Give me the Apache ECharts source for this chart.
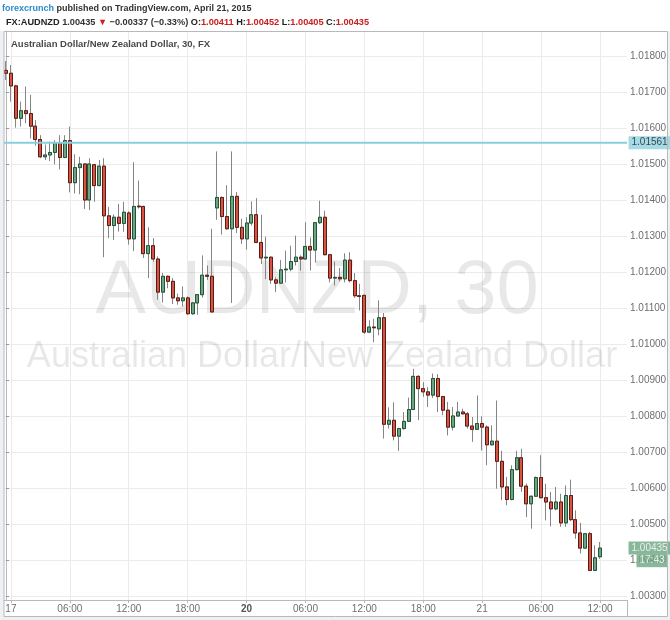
<!DOCTYPE html>
<html><head><meta charset="utf-8">
<script src="https://cdn.jsdelivr.net/npm/echarts@6/dist/echarts.min.js"></script>
<style>html,body{margin:0;padding:0;background:#fff;}#c{width:670px;height:620px;}</style>
</head><body><div id="c"></div>
<script>
// 30-minute bars, Apr 16 23:30 -> Apr 21 12:00 (weekend skipped)
const categories = [
 '23:30',
 '17','00:30','01:00','01:30','02:00','02:30','03:00','03:30','04:00','04:30','05:00','05:30',
 '06:00','06:30','07:00','07:30','08:00','08:30','09:00','09:30','10:00','10:30','11:00','11:30',
 '12:00','12:30','13:00','13:30','14:00','14:30','15:00','15:30','16:00','16:30','17:00','17:30',
 '18:00','18:30','19:00','19:30','20:00','20:30',
 '21:00','21:30','22:00','22:30','23:00','23:30',
 '20','00:30','01:00','01:30','02:00','02:30','03:00','03:30','04:00','04:30','05:00','05:30',
 '06:00','06:30','07:00','07:30','08:00','08:30','09:00','09:30','10:00','10:30','11:00','11:30',
 '12:00','12:30','13:00','13:30','14:00','14:30','15:00','15:30','16:00','16:30','17:00','17:30',
 '18:00','18:30','19:00','19:30','20:00','20:30','21:00','21:30','22:00','22:30','23:00','23:30',
 '21','00:30','01:00','01:30','02:00','02:30','03:00','03:30','04:00','04:30','05:00','05:30',
 '06:00','06:30','07:00','07:30','08:00','08:30','09:00','09:30','10:00','10:30','11:00','11:30',
 '12:00'
];
const tickIndex = [1, 13, 25, 37, 49, 61, 73, 85, 97, 109, 121];
const dayLabels = ['20'];

const openP = [
 1.01762,1.01754,1.01719,1.01629,1.01650,1.01642,1.01607,1.01570,1.01522,1.01527,
 1.01534,1.01561,1.01520,1.01567,1.01450,1.01492,1.01502,1.01402,1.01500,1.01442,
 1.01496,1.01358,1.01331,1.01354,1.01337,1.01366,1.01294,1.01385,1.01384,1.01253,
 1.01275,1.01238,1.01146,1.01190,1.01176,1.01130,1.01122,1.01130,1.01086,1.01116,
 1.01139,1.01193,1.01190,1.01380,1.01409,1.01356,1.01322,1.01412,1.01326,1.01294,
 1.01338,1.01361,1.01284,1.01241,1.01243,1.01180,1.01171,1.01208,1.01210,1.01231,
 1.01243,1.01238,1.01273,1.01263,1.01339,1.01354,1.01250,1.01185,1.01187,1.01183,
 1.01235,1.01178,1.01136,1.01137,1.01035,1.01049,1.01044,1.01075,1.00779,1.00790,
 1.00746,1.00767,1.00787,1.00820,1.00912,1.00878,1.00869,1.00860,1.00906,1.00856,
 1.00818,1.00771,1.00802,1.00813,1.00808,1.00774,1.00765,1.00781,1.00771,1.00722,
 1.00732,1.00676,1.00605,1.00570,1.00653,1.00686,1.00607,1.00558,1.00579,1.00631,
 1.00575,1.00563,1.00544,1.00563,1.00505,1.00581,1.00514,1.00477,1.00435,1.00475,
 1.00373,1.00411
];
const closeP = [
 1.01754,1.01719,1.01629,1.01650,1.01642,1.01607,1.01570,1.01522,1.01527,1.01534,
 1.01561,1.01520,1.01567,1.01450,1.01492,1.01502,1.01402,1.01502,1.01442,1.01496,
 1.01358,1.01331,1.01354,1.01337,1.01368,1.01294,1.01384,1.01383,1.01253,1.01275,
 1.01238,1.01146,1.01190,1.01176,1.01130,1.01122,1.01130,1.01086,1.01116,1.01139,
 1.01193,1.01190,1.01091,1.01409,1.01356,1.01322,1.01412,1.01326,1.01294,1.01338,
 1.01361,1.01284,1.01241,1.01243,1.01180,1.01171,1.01208,1.01210,1.01231,1.01243,
 1.01238,1.01273,1.01263,1.01339,1.01354,1.01250,1.01185,1.01187,1.01183,1.01235,
 1.01178,1.01136,1.01134,1.01035,1.01049,1.01047,1.01075,1.00779,1.00790,1.00746,
 1.00767,1.00787,1.00820,1.00912,1.00878,1.00869,1.00860,1.00906,1.00856,1.00818,
 1.00771,1.00802,1.00813,1.00808,1.00774,1.00765,1.00781,1.00771,1.00722,1.00732,
 1.00676,1.00605,1.00570,1.00653,1.00686,1.00607,1.00558,1.00579,1.00631,1.00575,
 1.00563,1.00544,1.00563,1.00505,1.00581,1.00514,1.00477,1.00435,1.00475,1.00373,
 1.00408,1.00435
];
const highP = [
 1.01788,1.01777,1.01722,1.01675,1.01717,1.01694,1.01624,1.01582,1.01556,1.01564,
 1.01568,1.01582,1.01582,1.01606,1.01529,1.01522,1.01504,1.01518,1.01502,1.01513,
 1.01518,1.01383,1.01362,1.01391,1.01397,1.01371,1.01507,1.01456,1.01386,1.01326,
 1.01296,1.01245,1.01199,1.01192,1.01185,1.01142,1.01162,1.01134,1.01118,1.01141,
 1.01248,1.01220,1.01322,1.01537,1.01412,1.01443,1.01537,1.01424,1.01350,1.01354,
 1.01398,1.01407,1.01361,1.01300,1.01245,1.01187,1.01235,1.01261,1.01275,1.01303,
 1.01248,1.01340,1.01298,1.01341,1.01400,1.01372,1.01252,1.01231,1.01213,1.01254,
 1.01257,1.01199,1.01169,1.01139,1.01068,1.01072,1.01123,1.01088,1.00826,1.00840,
 1.00769,1.00813,1.00853,1.00933,1.00915,1.00896,1.00882,1.00920,1.00918,1.00858,
 1.00841,1.00827,1.00841,1.00822,1.00813,1.00799,1.00859,1.00801,1.00776,1.00776,
 1.00845,1.00705,1.00633,1.00665,1.00705,1.00711,1.00614,1.00581,1.00634,1.00693,
 1.00614,1.00591,1.00605,1.00586,1.00609,1.00625,1.00540,1.00505,1.00477,1.00480,
 1.00443,1.00452
];
const lowP = [
 1.01735,1.01675,1.01603,1.01606,1.01615,1.01573,1.01553,1.01518,1.01513,1.01510,
 1.01501,1.01487,1.01518,1.01423,1.01420,1.01418,1.01377,1.01374,1.01397,1.01440,
 1.01243,1.01296,1.01291,1.01314,1.01314,1.01278,1.01260,1.01378,1.01241,1.01185,
 1.01230,1.01125,1.01117,1.01157,1.01113,1.01111,1.01106,1.01083,1.01083,1.01083,
 1.01131,1.01180,1.01089,1.01347,1.01306,1.01320,1.01116,1.01310,1.01280,1.01264,
 1.01331,1.01282,1.01224,1.01182,1.01169,1.01146,1.01169,1.01173,1.01204,1.01220,
 1.01206,1.01236,1.01206,1.01228,1.01335,1.01248,1.01173,1.01164,1.01176,1.01173,
 1.01173,1.01130,1.01095,1.01030,1.01032,1.01007,1.01026,1.00739,1.00767,1.00734,
 1.00705,1.00764,1.00785,1.00818,1.00790,1.00855,1.00827,1.00852,1.00813,1.00804,
 1.00748,1.00762,1.00799,1.00806,1.00767,1.00730,1.00764,1.00706,1.00665,1.00720,
 1.00600,1.00568,1.00554,1.00568,1.00650,1.00591,1.00521,1.00489,1.00577,1.00573,
 1.00512,1.00495,1.00540,1.00494,1.00494,1.00510,1.00461,1.00420,1.00433,1.00373,
 1.00371,1.00405
];
const levelLine = 1.01561;
const lastPrice = 1.00435;
const countdownLevel = 1.00400;
const countdownText = '17:43';
const xMin = -0.41, xMax = 126.5;

const FONT = '"Liberation Sans", Arial, sans-serif';
const wickData = openP.map((o, i) => [i, o, closeP[i], lowP[i], highP[i]]);
const bodyData = openP.map((o, i) => [i, o, closeP[i], Math.min(o, closeP[i]), Math.max(o, closeP[i])]);

const tagLabel = (text, bg, fg, dist) => ({
  show: true, position: 'right', distance: dist, formatter: text, fontSize: 10, fontFamily: FONT,
  color: fg, backgroundColor: bg, padding: [2, 3, 1, 3]
});

const chart = echarts.init(document.getElementById('c'), null, {renderer: 'canvas'});
chart.setOption({
  animation: false,
  backgroundColor: '#ffffff',
  textStyle: {fontFamily: FONT},
  title: [
    {left: 2, top: 4, padding: 0,
     text: '{a|forexcrunch} {b|published on TradingView.com, April 21, 2015}',
     textStyle: {fontSize: 9, fontFamily: FONT, rich: {
       a: {color: '#2b8ccb', fontSize: 9, fontFamily: FONT},
       b: {color: '#333333', fontSize: 9, fontFamily: FONT}}}},
    {left: 6, top: 18, padding: 0,
     text: '{k|FX:AUDNZD} {n|1.00435} {r|▼} {n|\u22120.00337 (\u22120.33%)} {k|O:}{r|1.00411} {k|H:}{r|1.00452} {k|L:}{r|1.00405} {k|C:}{r|1.00435}',
     textStyle: {fontSize: 9.2, fontFamily: FONT, rich: {
       k: {color: '#222', fontWeight: 'bold', fontSize: 9.2, fontFamily: FONT},
       n: {color: '#333', fontSize: 9.2, fontFamily: FONT},
       r: {color: '#c8201e', fontSize: 9.2, fontFamily: FONT}}}},
    {left: 11, top: 39, padding: 0,
     text: 'Australian Dollar/New Zealand Dollar, 30, FX',
     textStyle: {fontSize: 9.5, fontWeight: 'bold', color: '#4a4a4a', fontFamily: FONT}}
  ],
  graphic: [
    {type: 'rect', silent: true, z: -10, shape: {x: 0, y: 31, width: 4, height: 589}, style: {fill: '#eef1f4'}},
    {type: 'rect', silent: true, z: -10, shape: {x: 0, y: 617, width: 670, height: 3}, style: {fill: '#eef1f4'}},
    {type: 'rect', silent: true, z: -10, shape: {x: 668, y: 31, width: 2, height: 589}, style: {fill: '#eef1f4'}},
    {type: 'rect', silent: true, z: 20, shape: {x: 4, y: 31.5, width: 663.5, height: 585}, style: {fill: 'none', stroke: '#b9b9b9', lineWidth: 1}},
    {type: 'line', silent: true, z: 20, shape: {x1: 627.5, y1: 600, x2: 627.5, y2: 617}, style: {stroke: '#b9b9b9', lineWidth: 1}},
    {type: 'text', silent: true, z: 1, x: 317, y: 292,
     style: {text: 'AUDNZD, 30', fontSize: 76, fontFamily: FONT, fill: 'rgba(0,0,0,0.09)', textAlign: 'center', textVerticalAlign: 'middle'}},
    {type: 'text', silent: true, z: 1, x: 322, y: 357,
     style: {text: 'Australian Dollar/New Zealand Dollar', fontSize: 36, fontFamily: FONT, fill: 'rgba(0,0,0,0.09)', textAlign: 'center', textVerticalAlign: 'middle'}}
  ],
  grid: {left: 4, right: 43, top: 31, bottom: 20, containLabel: false},
  xAxis: {
    type: 'value', min: xMin, max: xMax,
    axisLine: {show: true, lineStyle: {color: '#b9b9b9'}},
    axisTick: {show: true, length: 3, customValues: tickIndex, lineStyle: {color: '#b9b9b9'}},
    axisLabel: {customValues: tickIndex, margin: 4, fontSize: 10, color: '#6e6e6e', fontFamily: FONT,
      formatter: v => { const s = categories[Math.round(v)]; return dayLabels.includes(s) ? '{d|' + s + '}' : s; },
      rich: {d: {fontWeight: 'bold', fontSize: 10, color: '#555', fontFamily: FONT}}},
    splitLine: {show: true, lineStyle: {color: '#ebebeb'}}
  },
  yAxis: {
    type: 'value', position: 'right', scale: true,
    min: 1.002908, max: 1.018714, splitNumber: 16, minInterval: 0.001, maxInterval: 0.001,
    axisLine: {show: true, lineStyle: {color: '#b9b9b9'}},
    axisTick: {show: true, length: 3, lineStyle: {color: '#9a9a9a'}},
    axisLabel: {showMinLabel: false, showMaxLabel: false, margin: 3, fontSize: 10, color: '#6e6e6e', fontFamily: FONT,
      formatter: v => v.toFixed(5)},
    splitLine: {show: true, lineStyle: {color: '#ebebeb'}}
  },
  series: [
    {type: 'candlestick', name: 'wick', data: wickData, barWidth: 3.5, silent: true, z: 2, clip: true,
     itemStyle: {color: 'rgba(0,0,0,0)', color0: 'rgba(0,0,0,0)', borderColor: '#858585', borderColor0: '#858585', borderWidth: 1}},
    {type: 'candlestick', name: 'AUDNZD', data: bodyData, barWidth: 3.5, silent: true, z: 3, clip: true,
     itemStyle: {color: '#6ba583', color0: '#d75442', borderColor: '#225437', borderColor0: '#5b1a13', borderWidth: 1}},
    {type: 'line', name: 'level', data: [[xMin, levelLine], [xMax, levelLine]], symbol: 'none', silent: true, z: 4,
     lineStyle: {color: '#86cfdf', width: 2}},
    {type: 'scatter', name: 'tags', silent: true, z: 6, clip: false, symbolSize: 1,
     itemStyle: {color: 'rgba(0,0,0,0)'},
     data: [
       {value: [xMax, levelLine], label: tagLabel(levelLine.toFixed(5), '#8fd2e1', '#1c1c1c', 1)},
       {value: [xMax, lastPrice], label: tagLabel(lastPrice.toFixed(5), '#6ba583', '#ffffff', 1)},
       {value: [xMax, countdownLevel], label: tagLabel(countdownText, '#6ba583', '#ffffff', 9)}
     ]}
  ]
});
</script></body></html>
